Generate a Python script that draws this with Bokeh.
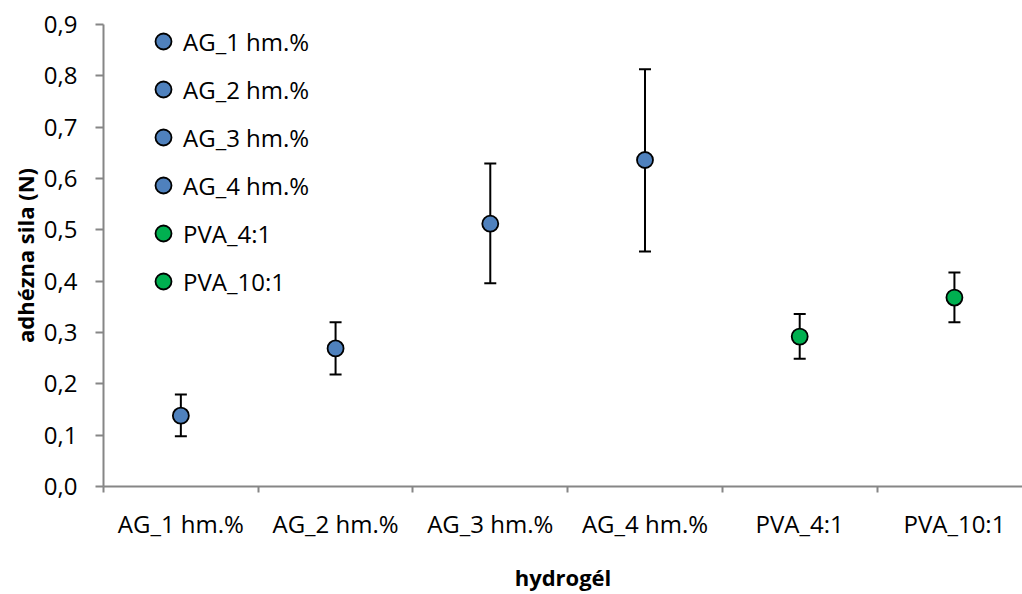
from bokeh.plotting import figure
from bokeh.models import (ColumnDataSource, Whisker, TeeHead, Legend, LegendItem,
                          FixedTicker, CustomJSTickFormatter, Range1d)
from bokeh.embed import file_html
from bokeh.resources import INLINE

categories = ["AG_1 hm.%", "AG_2 hm.%", "AG_3 hm.%", "AG_4 hm.%", "PVA_4:1", "PVA_10:1"]
means = [0.138, 0.269, 0.512, 0.636, 0.292, 0.368]
upper = [0.179, 0.320, 0.629, 0.813, 0.336, 0.417]
lower = [0.098, 0.218, 0.396, 0.458, 0.249, 0.320]
colors = ["#4F81BD", "#4F81BD", "#4F81BD", "#4F81BD", "#00B050", "#00B050"]
y_ticks = [0.0, 0.1, 0.2, 0.3, 0.4, 0.5, 0.6, 0.7, 0.8, 0.9]

FONT = "Open Sans"
xs = [i + 0.5 for i in range(len(categories))]

p = figure(width=1022, height=594, output_backend="svg", toolbar_location=None,
           x_range=Range1d(0, 5.94), y_range=Range1d(0, 0.9),
           min_border_left=103, min_border_right=0, min_border_top=24, min_border_bottom=108)
p.outline_line_color = None
p.grid.visible = False

src = ColumnDataSource(dict(x=xs, y=means, upper=upper, lower=lower, color=colors, cat=categories))
w = Whisker(source=src, base="x", upper="upper", lower="lower", line_color="black", line_width=2,
            upper_head=TeeHead(size=12, line_width=2, line_color="black"),
            lower_head=TeeHead(size=12, line_width=2, line_color="black"), level="underlay")
p.add_layout(w)

items = []
for i, c in enumerate(categories):
    r = p.scatter([xs[i]], [means[i]], size=16, fill_color=colors[i], line_color="black", line_width=1.8)
    items.append(LegendItem(label=c, renderers=[r]))

leg = Legend(items=items, location=(40, 185), glyph_width=40, glyph_height=40, label_height=40,
             spacing=8, padding=0, margin=0, label_standoff=0, border_line_color=None,
             background_fill_alpha=0, label_text_font=FONT, label_text_font_size="24px",
             label_text_color="#000000")
p.add_layout(leg)

# axes
xa = p.xaxis[0]
xa.ticker = FixedTicker(ticks=xs, minor_ticks=list(range(0, 7)))
xa.formatter = CustomJSTickFormatter(args=dict(labels=categories),
                                     code="return labels[Math.round(tick - 0.5)];")
xa.major_tick_line_color = None
xa.major_tick_out = 0
xa.major_tick_in = 0
xa.minor_tick_out = 6
xa.minor_tick_in = 0
xa.minor_tick_line_color = "#868686"
xa.minor_tick_line_width = 2
xa.axis_line_color = "#868686"
xa.axis_line_width = 2
xa.major_label_standoff = 14
xa.major_label_text_font = FONT
xa.major_label_text_font_size = "24px"
xa.major_label_text_color = "#000000"
xa.axis_label = "hydrogél"
xa.axis_label_text_font = FONT
xa.axis_label_text_font_style = "bold"
xa.axis_label_text_font_size = "22px"
xa.axis_label_standoff = 19
xa.axis_label_text_color = "#000000"

ya = p.yaxis[0]
ya.ticker = FixedTicker(ticks=y_ticks, minor_ticks=[])
ya.formatter = CustomJSTickFormatter(code="return tick.toFixed(1).replace('.', ',');")
ya.major_tick_out = 8
ya.major_tick_in = 0
ya.major_tick_line_color = "#868686"
ya.major_tick_line_width = 2
ya.axis_line_color = "#868686"
ya.axis_line_width = 2
ya.major_label_standoff = 18
ya.major_label_text_font = FONT
ya.major_label_text_font_size = "24px"
ya.major_label_text_color = "#000000"
ya.axis_label = "adhézna sila (N)"
ya.axis_label_text_font = FONT
ya.axis_label_text_font_style = "bold"
ya.axis_label_text_font_size = "22px"
ya.axis_label_standoff = 1
ya.axis_label_text_color = "#000000"

open("out.html", "w").write(file_html(p, INLINE))
